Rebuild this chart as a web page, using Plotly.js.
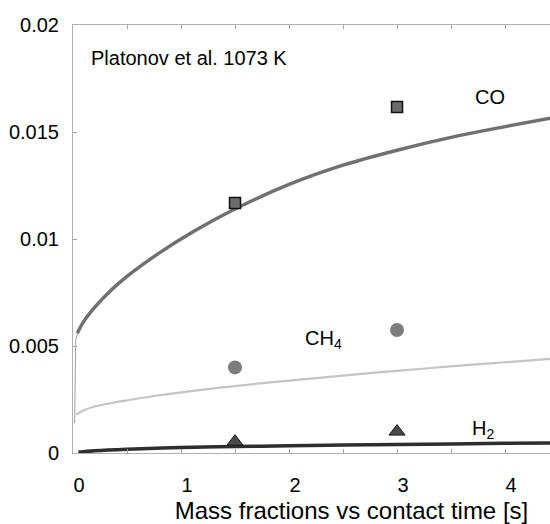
<!DOCTYPE html>
<html><head><meta charset="utf-8">
<script src="https://cdn.plot.ly/plotly-3.0.1.min.js"></script>
<style>html,body{margin:0;padding:0;background:#fff;overflow:hidden}
#wrap{width:550px;height:524px;overflow:hidden;position:relative}</style>
</head><body><div id="wrap"><div id="chart" style="width:630px;height:524px"></div></div>
<script>
// Measured data (mass fractions)
const expTime = [1.5, 3.0];
const expCO   = [0.01168, 0.01617];
const expCH4  = [0.0040, 0.00575];
const expH2   = [0.00053, 0.00100];

// Model curves
const coStartX = [0.015, 0.018, 0.025, 0.045];
const coStartY = [0.0014, 0.0049, 0.0053, 0.0056];
const coX = [0.04, 0.1, 0.2, 0.34, 0.5, 0.8, 1.1, 1.5, 2.0, 2.5, 3.0, 3.5, 4.0, 4.42];
const coY = [0.0056, 0.00615, 0.0068, 0.00755, 0.00825, 0.00935, 0.0103, 0.0114, 0.01255, 0.01345, 0.01415, 0.01475, 0.01525, 0.01565];
const ch4X = [0.03, 0.1, 0.2, 0.34, 0.5, 0.8, 1.27, 1.73, 2.5, 3.0, 3.58, 4.0, 4.42];
const ch4Y = [0.0018, 0.002, 0.00217, 0.00232, 0.00246, 0.0027, 0.003, 0.00325, 0.00362, 0.00384, 0.00408, 0.00424, 0.0044];
const h2X = [0.05, 0.2, 0.5, 1.0, 1.5, 2.0, 2.5, 3.0, 3.5, 4.0, 4.42];
const h2Y = [0.00003, 0.0001, 0.00018, 0.00026, 0.0003, 0.00034, 0.00037, 0.0004, 0.00042, 0.00045, 0.00047];

const xTicks = [0, 1, 2, 3, 4];
const yTicks = [0, 0.005, 0.01, 0.015, 0.02];
const yTickText = ['0', '0.005', '0.01', '0.015', '0.02'];

const traces = [
  {x: coStartX, y: coStartY, mode: 'lines', line: {color: '#a0a0a0', width: 1}, hoverinfo: 'skip'},
  {x: coX, y: coY, mode: 'lines', line: {color: '#707070', width: 3.5, shape: 'spline'}},
  {x: ch4X, y: ch4Y, mode: 'lines', line: {color: '#c4c4c4', width: 2.2, shape: 'spline'}},
  {x: h2X, y: h2Y, mode: 'lines', line: {color: '#2e2e2e', width: 3.5, shape: 'spline'}},
  {x: expTime, y: expCO, mode: 'markers', marker: {symbol: 'square', size: 11, color: '#6c6c6c', line: {color: '#111', width: 1.5}}},
  {x: expTime, y: expCH4, mode: 'markers', marker: {symbol: 'circle', size: 14, color: '#7d7d7d', line: {width: 0}}},
  {x: expTime, y: expH2, mode: 'markers', marker: {symbol: 'triangle-up', size: 14, color: '#4a4a4a', line: {color: '#1a1a1a', width: 1}}}
];

const fam = 'Liberation Sans, Arial, sans-serif';
const font = {family: fam, size: 20, color: '#000'};

const layout = {
  width: 630, height: 524,
  margin: {l: 73, r: 0, t: 25, b: 71, pad: 0},
  paper_bgcolor: '#fff', plot_bgcolor: '#fff',
  showlegend: false,
  font: font,
  xaxis: {
    range: [0, 5.157], tickvals: xTicks, ticktext: xTicks.map(String),
    showgrid: false, zeroline: false, showline: true, linecolor: '#b0b0b0', linewidth: 1,
    mirror: 'ticks', ticks: 'inside', ticklen: 4, tickcolor: '#a0a0a0',
    minor: {dtick: 0.5, tick0: 0, ticks: 'inside', ticklen: 4, tickcolor: '#a0a0a0'},
    ticklabelstandoff: 14, ticklabelshift: 6,
    tickfont: font,
    title: {text: 'Mass fractions vs contact time [s]', font: {family: fam, size: 24, color: '#000'}, standoff: 9}
  },
  yaxis: {
    range: [0, 0.02], tickvals: yTicks, ticktext: yTickText,
    showgrid: false, zeroline: false, showline: true, linecolor: '#b0b0b0', linewidth: 1,
    ticks: 'inside', ticklen: 4, tickcolor: '#a0a0a0',
    ticklabelstandoff: 9,
    tickfont: font
  },
  annotations: [
    {text: 'Platonov et al. 1073 K', xref: 'x', yref: 'y', x: 0.15, y: 0.01845, xanchor: 'left', yanchor: 'middle', showarrow: false, font: font},
    {text: 'CO', xref: 'x', yref: 'y', x: 3.86, y: 0.01665, showarrow: false, font: font},
    {text: 'CH<sub>4</sub>', xref: 'x', yref: 'y', x: 2.32, y: 0.0053, showarrow: false, font: font},
    {text: 'H<sub>2</sub>', xref: 'x', yref: 'y', x: 3.8, y: 0.0011, showarrow: false, font: font}
  ]
};

Plotly.newPlot('chart', traces, layout, {displayModeBar: false, staticPlot: true});
</script>
</body></html>
